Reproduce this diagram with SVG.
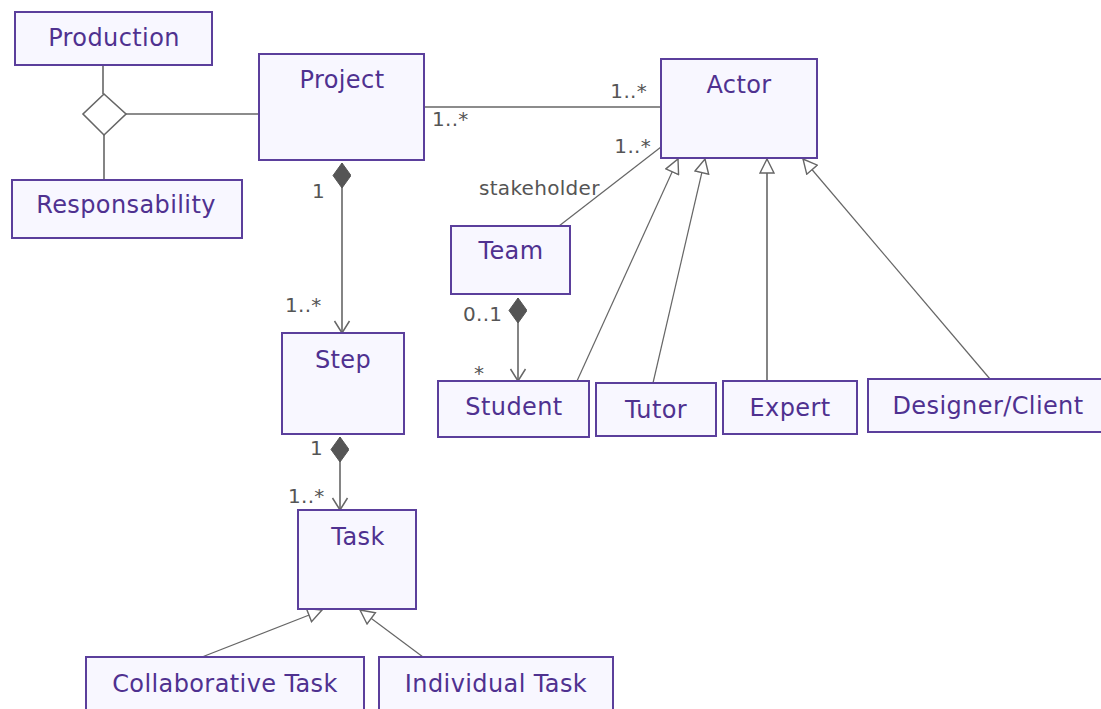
<svg xmlns="http://www.w3.org/2000/svg" width="1101" height="709" viewBox="0 0 1101 709">
<style>
.box{fill:#F8F7FF;stroke:#5B3F9C;stroke-width:2}
.t{font-family:"DejaVu Sans",Verdana,sans-serif;font-size:24px;letter-spacing:0.4px;fill:#4F3190;text-anchor:middle}
.lbl{font-family:"DejaVu Sans",Verdana,sans-serif;font-size:20px;letter-spacing:0.3px;fill:#555}
.c{stroke:#666;stroke-width:1.6;fill:none}
.thin{stroke:#666;stroke-width:1.2;fill:none}
</style>
<defs>
<marker id="gen" viewBox="0 0 16 16" refX="15" refY="8" markerWidth="16" markerHeight="16" markerUnits="userSpaceOnUse" orient="auto">
<path d="M1,1 L15,8 L1,15 Z" fill="#fff" stroke="#666" stroke-width="1.4"/>
</marker>
<marker id="open" viewBox="0 0 14 18" refX="13" refY="9" markerWidth="14" markerHeight="18" markerUnits="userSpaceOnUse" orient="auto">
<path d="M1,1.5 L13,9 L1,16.5" fill="none" stroke="#666" stroke-width="1.5"/>
</marker>
<marker id="comp" viewBox="0 0 26 20" refX="0" refY="9" markerWidth="26" markerHeight="20" markerUnits="userSpaceOnUse" orient="auto">
<path d="M0,9 L12.5,0 L25,9 L12.5,18 Z" fill="#555" stroke="#555" stroke-width="1"/>
</marker>
</defs>
<g id="connectors">
<line class="c" x1="103" y1="65" x2="103" y2="94"/>
<line class="c" x1="104" y1="135" x2="104" y2="180"/>
<line class="c" x1="126" y1="114" x2="259" y2="114"/>
<polygon points="104,94 126,114 104,135 83,114" fill="#fff" stroke="#666" stroke-width="1.6"/>
<line class="c" x1="425" y1="107" x2="661" y2="107"/>
<line class="thin" x1="559" y1="226" x2="661" y2="147"/>
<line class="c" x1="342" y1="163" x2="342" y2="333" marker-start="url(#comp)" marker-end="url(#open)"/>
<line class="c" x1="518" y1="298" x2="518" y2="381" marker-start="url(#comp)" marker-end="url(#open)"/>
<line class="c" x1="340" y1="437" x2="340" y2="510" marker-start="url(#comp)" marker-end="url(#open)"/>
<line class="thin" x1="577" y1="381" x2="678" y2="159" marker-end="url(#gen)"/>
<line class="thin" x1="653" y1="383" x2="705" y2="159" marker-end="url(#gen)"/>
<line class="c" x1="767" y1="381" x2="767" y2="159" marker-end="url(#gen)"/>
<line class="thin" x1="990" y1="379" x2="803" y2="159" marker-end="url(#gen)"/>
<line class="thin" x1="202" y1="657" x2="322" y2="610" marker-end="url(#gen)"/>
<line class="thin" x1="423" y1="657" x2="360" y2="610" marker-end="url(#gen)"/>
<text class="lbl" x="647" y="98" text-anchor="end">1..*</text>
<text class="lbl" x="432" y="126">1..*</text>
<text class="lbl" x="651" y="153" text-anchor="end">1..*</text>
<text class="lbl" x="479" y="195">stakeholder</text>
<text class="lbl" x="312" y="198">1</text>
<text class="lbl" x="285" y="312">1..*</text>
<text class="lbl" x="463" y="321">0..1</text>
<text class="lbl" x="474" y="380">*</text>
<text class="lbl" x="310" y="455">1</text>
<text class="lbl" x="288" y="503">1..*</text>
</g>
<g id="production"><rect class="box" x="15" y="12" width="197" height="53"/><text class="t" x="114" y="46">Production</text></g>
<g id="responsability"><rect class="box" x="12" y="180" width="230" height="58"/><text class="t" x="126" y="213">Responsability</text></g>
<g id="project"><rect class="box" x="259" y="54" width="165" height="106"/><text class="t" x="342" y="88">Project</text></g>
<g id="actor"><rect class="box" x="661" y="59" width="156" height="99"/><text class="t" x="739" y="93">Actor</text></g>
<g id="team"><rect class="box" x="451" y="226" width="119" height="68"/><text class="t" x="511" y="259">Team</text></g>
<g id="step"><rect class="box" x="282" y="333" width="122" height="101"/><text class="t" x="343" y="368">Step</text></g>
<g id="student"><rect class="box" x="438" y="381" width="151" height="56"/><text class="t" x="514" y="415">Student</text></g>
<g id="tutor"><rect class="box" x="596" y="383" width="120" height="53"/><text class="t" x="656" y="418">Tutor</text></g>
<g id="expert"><rect class="box" x="723" y="381" width="134" height="53"/><text class="t" x="790" y="416">Expert</text></g>
<g id="designer"><rect class="box" x="868" y="379" width="240" height="53"/><text class="t" x="988" y="414">Designer/Client</text></g>
<g id="task"><rect class="box" x="298" y="510" width="118" height="99"/><text class="t" x="358" y="545">Task</text></g>
<g id="collab"><rect class="box" x="86" y="657" width="278" height="60"/><text class="t" x="225" y="692">Collaborative Task</text></g>
<g id="individual"><rect class="box" x="379" y="657" width="234" height="60"/><text class="t" x="496" y="692">Individual Task</text></g>
</svg>
